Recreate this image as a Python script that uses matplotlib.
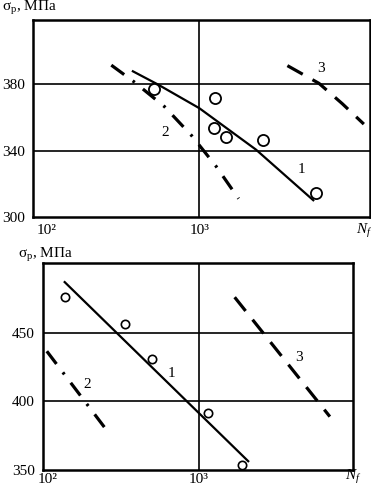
import numpy as np
import matplotlib
matplotlib.use("Agg")
import matplotlib.pyplot as plt

plt.rcParams['font.family'] = ['Liberation Serif', 'DejaVu Serif']
plt.rcParams['mathtext.fontset'] = 'custom'
plt.rcParams['mathtext.rm'] = 'Liberation Serif'
plt.rcParams['mathtext.it'] = 'Liberation Serif:italic'

# ── top panel data (log10 N, sigma MPa) ──
top_c1_logn = [2.558, 2.727, 3.0, 3.371, 3.752]
top_c1_sig  = [388.2, 380.0, 365.6, 340.6, 309.6]
top_c2_logn = [2.423, 2.571, 2.771, 2.95, 3.109, 3.257]
top_c2_sig  = [391.6, 381.6, 366.6, 349.0, 330.6, 311.0]
top_c3_logn = [3.577, 3.784, 3.937, 4.078]
top_c3_sig  = [391.3, 380.6, 368.3, 356.0]
top_pts_logn = [2.701, 3.103, 3.098, 3.174, 3.414, 3.767]
top_pts_sig  = [377.2, 372.0, 353.6, 348.0, 346.2, 314.2]
top_yticks = [300, 340, 380]

# ── bottom panel data ──
bot_c1_logn = [2.108, 3.333]
bot_c1_sig  = [487.5, 355.7]
bot_c2_logn = [1.995, 2.411]
bot_c2_sig  = [436.5, 376.0]
bot_c3_logn = [3.238, 3.868]
bot_c3_sig  = [475.9, 388.8]
bot_pts_logn = [2.113, 2.515, 2.693, 3.062, 3.289]
bot_pts_sig  = [476.4, 456.4, 431.1, 391.2, 353.7]
bot_yticks = [350, 400, 450]

xticks = [100, 1000]
xtick_labels = ['10²', '10³']

fig = plt.figure(figsize=(3.71, 4.94), dpi=100)
ax1 = fig.add_axes([0.089, 0.561, 0.909, 0.399])
ax2 = fig.add_axes([0.116, 0.049, 0.835, 0.419])

def p(v):
    return 10 ** np.array(v)

def style(ax, yticks, xlim, ylim, xpad):
    ax.set_xscale('log')
    ax.set_xlim(xlim)
    ax.set_ylim(ylim)
    ax.set_xticks(xticks)
    ax.set_xticklabels(xtick_labels)
    ax.minorticks_off()
    ax.set_yticks(yticks)
    ax.tick_params(length=0, labelsize=11, pad=6)
    ax.tick_params(axis='x', pad=xpad)
    for sp in ax.spines.values():
        sp.set_linewidth(1.8)
    ax.axvline(1000, color='black', lw=1.2)
    for yv in yticks[1:]:
        ax.axhline(yv, color='black', lw=1.2)

style(ax1, top_yticks, (10 ** 1.91, 10 ** 4.12), (300, 419), 5)
style(ax2, bot_yticks, (10 ** 1.97, 10 ** 4.02), (350, 501), 2)

solid = dict(color='black', lw=1.6, solid_capstyle='butt', solid_joinstyle='round')
dashed = dict(color='black', lw=2.3, dashes=(5.5, 3.5))
dashdot = dict(color='black', lw=2.3, dashes=(5, 3.3, 0.8, 3.3))

ax1.plot(p(top_c1_logn), top_c1_sig, **solid)
ax1.plot(p(top_c2_logn), top_c2_sig, **dashdot)
ax1.plot(p(top_c3_logn), top_c3_sig, **dashed)
ax1.plot(p(top_pts_logn), top_pts_sig, 'o', mfc='white', mec='black', ms=8, mew=1.3)
ax1.text(p(3.671), 328.3, '1', fontsize=11, ha='center', va='center')
ax1.text(p(2.776), 350.9, '2', fontsize=11, ha='center', va='center')
ax1.text(p(3.797), 389.8, '3', fontsize=11, ha='center', va='center')

ax2.plot(p(bot_c1_logn), bot_c1_sig, **solid)
ax2.plot(p(bot_c2_logn), bot_c2_sig, **dashdot)
ax2.plot(p(bot_c3_logn), bot_c3_sig, **dashed)
ax2.plot(p(bot_pts_logn), bot_pts_sig, 'o', mfc='white', mec='black', ms=6, mew=1.2)
ax2.text(p(2.823), 420.0, '1', fontsize=11, ha='center', va='center')
ax2.text(p(2.26), 412.0, '2', fontsize=11, ha='center', va='center')
ax2.text(p(3.662), 431.6, '3', fontsize=11, ha='center', va='center')

fig.text(2 / 371, 1 - 8 / 494, 'σ$_\\mathrm{р}$, МПа', fontsize=11, ha='left', va='center')
fig.text(18 / 371, 1 - 255 / 494, 'σ$_\\mathrm{р}$, МПа', fontsize=11, ha='left', va='center')
fig.text(356 / 371, 1 - 231 / 494, '$N_f$', fontsize=11, ha='left', va='center')
fig.text(345 / 371, 1 - 477 / 494, '$N_f$', fontsize=11, ha='left', va='center')

fig.savefig('out.png', dpi=100)
